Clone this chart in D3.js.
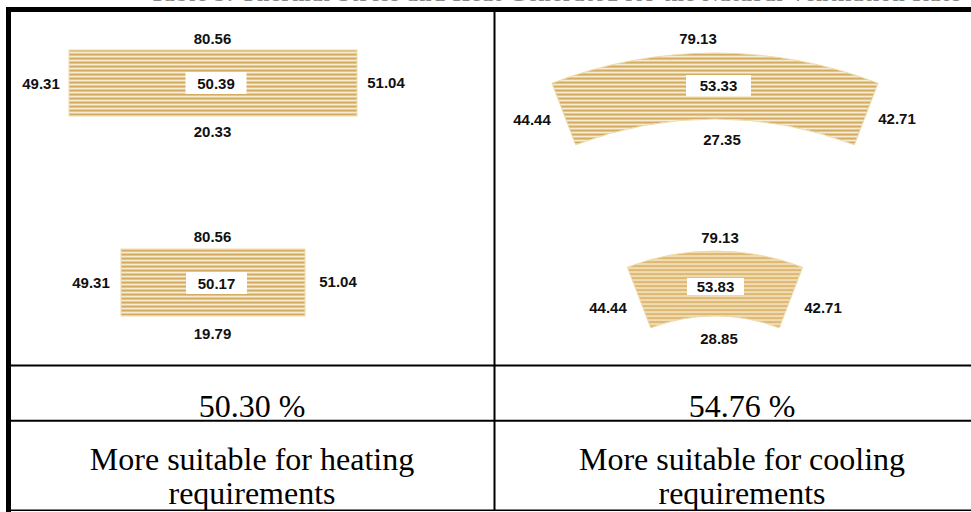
<!DOCTYPE html>
<html>
<head>
<meta charset="utf-8">
<script src="https://cdn.jsdelivr.net/npm/d3@7"></script>
<style>
  html, body { margin: 0; padding: 0; background: #fff; }
  .lbl { font-family: "Liberation Sans", Arial, sans-serif; font-weight: bold; font-size: 15px; fill: #111; }
  .cell { font-family: "Liberation Serif", "Times New Roman", serif; font-size: 32px; fill: #000; }
</style>
</head>
<body>
<svg id="chart" width="971" height="512"></svg>
<script>
// Values (heating shapes on the left, cooling shapes on the right).
const heatTop = [80.56, 80.56];
const heatLeft = [49.31, 49.31];
const heatRight = [51.04, 51.04];
const heatBottom = [20.33, 19.79];
const heatCenter = [50.39, 50.17];

const coolTop = [79.13, 79.13];
const coolLeft = [44.44, 44.44];
const coolRight = [42.71, 42.71];
const coolBottom = [27.35, 28.85];
const coolCenter = [53.33, 53.83];

const percentages = ["50.30 %", "54.76 %"];
const verdictLine1 = ["More suitable for heating", "More suitable for cooling"];
const verdictLine2 = ["requirements", "requirements"];

const titleText = "Table 3: Thermal Stress and Heat Generated for the Natural Ventilation Rate";

// =======================================================================================
/// @brief Draw the table frame, the row/column rules and the title (cut off at the top).

function drawFrame(svg, x, y)
 {
  svg.append("text")
    .attr("x", 150).attr("y", 1.2)
    .attr("font-family", "Liberation Serif, serif")
    .attr("font-weight", "bold")
    .attr("font-size", 22)
    .attr("textLength", 810)
    .attr("fill", "#888")
    .text(titleText);

  // thick top and left border
  svg.append("rect").attr("x", 6).attr("y", 7).attr("width", 965).attr("height", 5).attr("fill", "#000");
  svg.append("rect").attr("x", 6).attr("y", 7).attr("width", 5).attr("height", 505).attr("fill", "#000");

  // column divider
  svg.append("line")
    .attr("x1", x(1)).attr("x2", x(1))
    .attr("y1", 12).attr("y2", 511)
    .attr("stroke", "#000").attr("stroke-width", 2);

  // row rules
  [y.shapesEnd, y.percentEnd, y.tableEnd].forEach((yy, i) => {
    svg.append("line")
      .attr("x1", 11).attr("x2", 971)
      .attr("y1", yy).attr("y2", yy)
      .attr("stroke", "#000").attr("stroke-width", i == 2 ? 1.6 : 2);
  });
 }

// =======================================================================================
/// @brief Put one bold number label centred on a point.

function label(g, cx, cy, value)
 {
  g.append("text")
    .attr("class", "lbl")
    .attr("x", cx).attr("y", cy)
    .attr("text-anchor", "middle")
    .attr("dominant-baseline", "central")
    .text(value.toFixed(2));
 }

// =======================================================================================
/// @brief Label box in the middle of a shape: white rectangle plus value.

function centerBox(g, cx, cy, w, h, value)
 {
  g.append("rect")
    .attr("x", cx - w / 2).attr("y", cy - h / 2)
    .attr("width", w).attr("height", h)
    .attr("fill", "#fff");
  label(g, cx, cy, value);
 }

// =======================================================================================

const svg = d3.select("#chart");

// column boundaries and row positions
const x = d3.scaleLinear().domain([0, 2]).range([11, 978]);
const rows = { shapesEnd: 365.5, percentEnd: 420.8, tableEnd: 510.3 };

// striped fill used by all shapes
const defs = svg.append("defs");
const pat = defs.append("pattern")
  .attr("id", "stripes")
  .attr("patternUnits", "userSpaceOnUse")
  .attr("width", 8).attr("height", 4);
["#f7ecd0", "#e8cc8f", "#d3ab63", "#e4c584"].forEach((c, i) => {
  pat.append("rect").attr("x", 0).attr("y", i).attr("width", 8).attr("height", 1).attr("fill", c);
});

drawFrame(svg, x, rows);

// heating shapes: rectangles
const heatShapes = [
  { x0: 69, x1: 357, y0: 50, y1: 116, top: 38, left: 41, right: 386, bottom: 131, box: [216, 83, 61, 22] },
  { x0: 121, x1: 305, y0: 249, y1: 316, top: 236, left: 91, right: 338, bottom: 333, box: [216.5, 283, 61, 22] }
];

const gHeat = svg.append("g");
heatShapes.forEach((s, i) => {
  gHeat.append("rect")
    .attr("x", s.x0).attr("y", s.y0)
    .attr("width", s.x1 - s.x0).attr("height", s.y1 - s.y0)
    .attr("fill", "url(#stripes)")
    .attr("stroke", "#efdcac").attr("stroke-width", 1);
  const cy = (s.y0 + s.y1) / 2;
  label(gHeat, (s.x0 + s.x1) / 2 - 0.5, s.top, heatTop[i]);
  label(gHeat, s.left, cy, heatLeft[i]);
  label(gHeat, s.right, cy - 1, heatRight[i]);
  label(gHeat, (s.x0 + s.x1) / 2 - 0.5, s.bottom, heatBottom[i]);
  centerBox(gHeat, s.box[0], s.box[1], s.box[2], s.box[3], heatCenter[i]);
 });

// cooling shapes: annular sectors drawn with d3.arc
const half = 21 * Math.PI / 180;
const coolShapes = [
  { cx: 715, cy: 508, r0: 389, r1: 455, top: [698, 38], left: [532, 119], right: [897, 118], bottom: [722, 139], box: [718.5, 85.5, 65, 21] },
  { cx: 715, cy: 495.5, r0: 179.5, r1: 244.5, top: [720, 237], left: [608, 307], right: [823, 307], bottom: [719, 338], box: [715.5, 286.5, 57, 17] }
];

const gCool = svg.append("g");
coolShapes.forEach((s, i) => {
  const arc = d3.arc()
    .innerRadius(s.r0).outerRadius(s.r1)
    .startAngle(-half).endAngle(half);
  gCool.append("path")
    .attr("transform", `translate(${s.cx},${s.cy})`)
    .attr("d", arc())
    .attr("fill", "url(#stripes)")
    .attr("stroke", "#efdcac").attr("stroke-width", 1);
  label(gCool, s.top[0], s.top[1], coolTop[i]);
  label(gCool, s.left[0], s.left[1], coolLeft[i]);
  label(gCool, s.right[0], s.right[1], coolRight[i]);
  label(gCool, s.bottom[0], s.bottom[1], coolBottom[i]);
  centerBox(gCool, s.box[0], s.box[1], s.box[2], s.box[3], coolCenter[i]);
 });

// lower rows of the table
const colCenter = [252, 742];
percentages.forEach((p, i) => {
  svg.append("text").attr("class", "cell")
    .attr("x", colCenter[i]).attr("y", 417)
    .attr("text-anchor", "middle")
    .text(p);
  svg.append("text").attr("class", "cell")
    .attr("x", colCenter[i]).attr("y", 470)
    .attr("text-anchor", "middle")
    .text(verdictLine1[i]);
  svg.append("text").attr("class", "cell")
    .attr("x", colCenter[i]).attr("y", 504)
    .attr("text-anchor", "middle")
    .text(verdictLine2[i]);
 });
</script>
</body>
</html>
